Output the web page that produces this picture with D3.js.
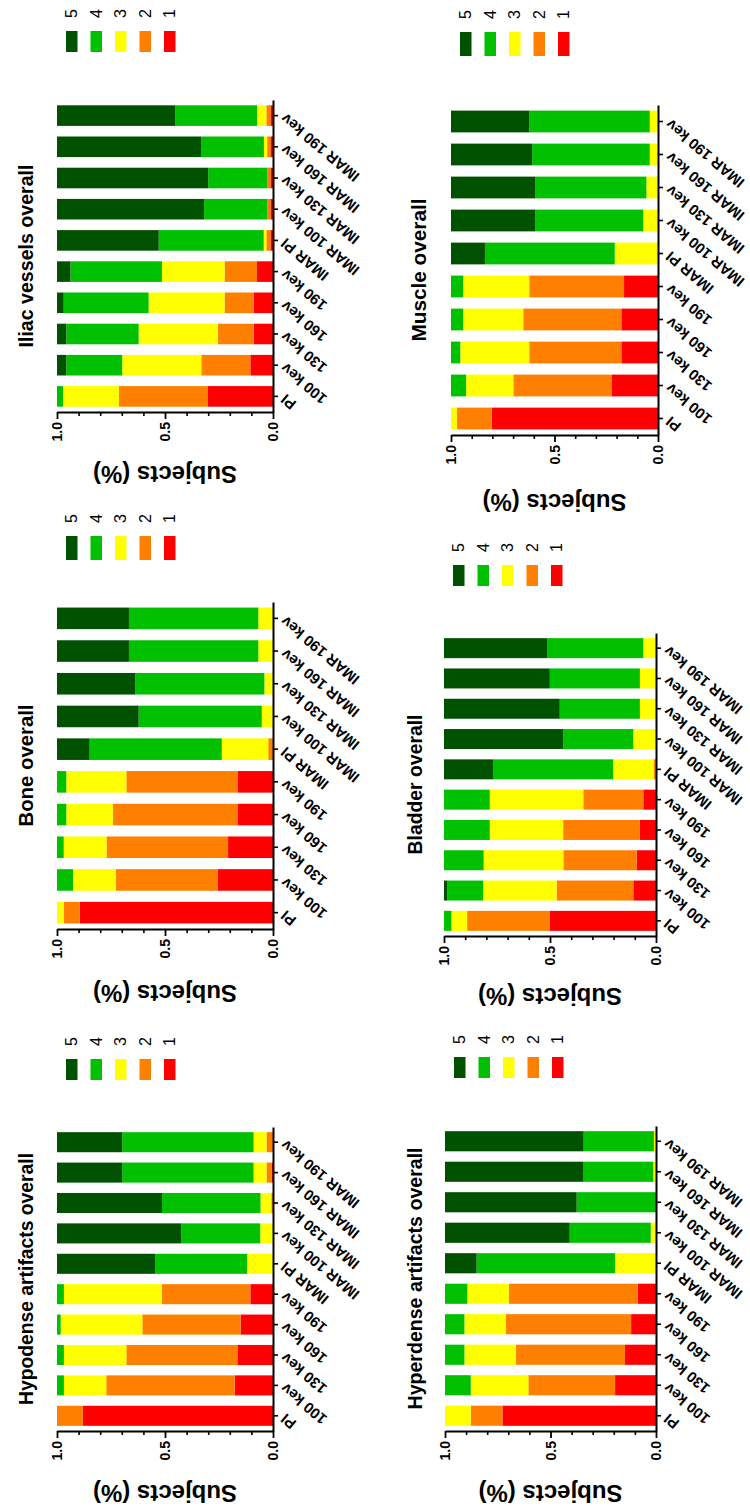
<!doctype html>
<html lang="en">
  <head>
    <meta charset="UTF-8" />
    <title>Image quality scores overall</title>
    <script src="https://d3js.org/d3.v7.min.js"></script>
    <style>
      body {
        margin: 0;
        padding: 0;
        background: #ffffff;
      }
      svg text {
        font-family: 'Liberation Sans', Arial, sans-serif;
        fill: #000000;
      }
      .title {
        font-size: 21px;
        font-weight: bold;
      }
      .axis-title {
        font-size: 24px;
        font-weight: bold;
      }
      .tick-label {
        font-size: 14px;
        font-weight: bold;
      }
      .cat-label {
        font-size: 15px;
        font-weight: bold;
      }
      .legend-label {
        font-size: 16px;
      }
    </style>
  </head>
  <body>
    <div id="chart"></div>

    <script>
      // categories (bottom to top in the picture)
      const categories = [
        'PI', '100 kev', '130 kev', '160 kev', '190 kev',
        'IMAR PI', 'IMAR 100 kev', 'IMAR 130 kev', 'IMAR 160 kev', 'IMAR 190 kev',
      ]
      // scores stacked from 0 upwards
      const scores = ['1', '2', '3', '4', '5']
      const scoreColors = ['#ff0000', '#ff8000', '#ffff00', '#00c000', '#005200']
      const legendOrder = ['5', '4', '3', '2', '1']
      const majorTicks = [0, 0.5, 1]
      const minorTicks = [0.1, 0.2, 0.3, 0.4, 0.6, 0.7, 0.8, 0.9]

      // share of subjects per score 1..5, one row per category
      const iliac = [
        [0.301, 0.412, 0.259, 0.028, 0],
        [0.105, 0.227, 0.366, 0.259, 0.043],
        [0.09, 0.165, 0.367, 0.335, 0.043],
        [0.09, 0.134, 0.352, 0.393, 0.031],
        [0.074, 0.15, 0.29, 0.424, 0.062],
        [0.012, 0.019, 0.012, 0.486, 0.471],
        [0.012, 0.015, 0, 0.292, 0.681],
        [0.012, 0.015, 0, 0.273, 0.7],
        [0.012, 0.015, 0.015, 0.289, 0.669],
        [0.012, 0.019, 0.043, 0.378, 0.548],
      ]
      const muscle = [
        [0.804, 0.167, 0.029, 0, 0],
        [0.225, 0.474, 0.228, 0.073, 0],
        [0.177, 0.445, 0.333, 0.045, 0],
        [0.177, 0.474, 0.29, 0.059, 0],
        [0.164, 0.458, 0.319, 0.059, 0],
        [0, 0, 0.209, 0.627, 0.164],
        [0, 0, 0.071, 0.521, 0.408],
        [0, 0, 0.056, 0.536, 0.408],
        [0, 0, 0.04, 0.568, 0.392],
        [0, 0, 0.04, 0.582, 0.378],
      ]
      const bone = [
        [0.895, 0.074, 0.031, 0, 0],
        [0.255, 0.473, 0.198, 0.074, 0],
        [0.208, 0.563, 0.198, 0.031, 0],
        [0.162, 0.579, 0.216, 0.043, 0],
        [0.162, 0.517, 0.278, 0.043, 0],
        [0, 0.022, 0.215, 0.612, 0.151],
        [0, 0, 0.052, 0.57, 0.378],
        [0, 0, 0.04, 0.597, 0.363],
        [0, 0, 0.068, 0.599, 0.333],
        [0, 0, 0.068, 0.599, 0.333],
      ]
      const bladder = [
        [0.5, 0.391, 0.074, 0.035, 0],
        [0.107, 0.362, 0.346, 0.169, 0.016],
        [0.091, 0.346, 0.376, 0.187, 0],
        [0.076, 0.362, 0.346, 0.216, 0],
        [0.06, 0.283, 0.441, 0.216, 0],
        [0, 0.011, 0.191, 0.567, 0.231],
        [0, 0, 0.107, 0.331, 0.562],
        [0, 0, 0.076, 0.378, 0.546],
        [0, 0, 0.076, 0.425, 0.499],
        [0, 0, 0.06, 0.454, 0.486],
      ]
      const hypodense = [
        [0.88, 0.12, 0, 0, 0],
        [0.177, 0.595, 0.196, 0.032, 0],
        [0.165, 0.514, 0.289, 0.032, 0],
        [0.15, 0.455, 0.378, 0.017, 0],
        [0.105, 0.409, 0.454, 0.032, 0],
        [0, 0, 0.12, 0.426, 0.454],
        [0, 0, 0.059, 0.365, 0.576],
        [0, 0.008, 0.05, 0.456, 0.486],
        [0.005, 0.025, 0.06, 0.608, 0.302],
        [0, 0.03, 0.06, 0.608, 0.302],
      ]
      const hyperdense = [
        [0.728, 0.15, 0.122, 0, 0],
        [0.194, 0.411, 0.273, 0.122, 0],
        [0.147, 0.518, 0.243, 0.092, 0],
        [0.118, 0.593, 0.197, 0.092, 0],
        [0.087, 0.61, 0.197, 0.106, 0],
        [0, 0, 0.194, 0.656, 0.15],
        [0, 0, 0.025, 0.384, 0.591],
        [0, 0, 0, 0.376, 0.624],
        [0, 0, 0.013, 0.333, 0.654],
        [0, 0, 0.01, 0.333, 0.657],
      ]

      // each panel is a prism chart turned a quarter turn to the left
      const panels = [
        { title: 'Iliac vessels overall', values: iliac, x1: 57, x0: 273, axisY: 412, step: 31.2, titleX: 33, titleLen: 183, legendY: 31, legendH: 21, subjOff: 62 },
        { title: 'Muscle overall', values: muscle, x1: 451, x0: 658, axisY: 435, step: 33, titleX: 426, titleLen: 143, legendY: 32, legendH: 24, subjOff: 67 },
        { title: 'Bone overall', values: bone, x1: 57, x0: 273, axisY: 929, step: 32.7, titleX: 33, titleLen: 122, legendY: 536, legendH: 24, subjOff: 64 },
        { title: 'Bladder overall', values: bladder, x1: 444, x0: 656, axisY: 936, step: 30.3, titleX: 422, titleLen: 140, legendY: 565, legendH: 21, subjOff: 60 },
        { title: 'Hypodense artifacts overall', values: hypodense, x1: 57, x0: 273, axisY: 1431, step: 30.4, titleX: 33, titleLen: 252, legendY: 1059, legendH: 21, subjOff: 62 },
        { title: 'Hyperdense artifacts overall', values: hyperdense, x1: 445, x0: 656, axisY: 1431, step: 30.5, titleX: 422, titleLen: 262, legendY: 1057, legendH: 21, subjOff: 62 },
      ]

      const svg = d3
        .select('#chart')
        .append('svg')
        .attr('width', 750)
        .attr('height', 1506)

      const color = d3.scaleOrdinal().domain(scores).range(scoreColors)
      const stack = d3.stack().keys(scores)

      function drawPanel(p) {
        const g = svg.append('g')

        const x = d3.scaleLinear().domain([0, 1]).range([p.x0, p.x1])
        const y = d3
          .scaleBand()
          .domain(categories)
          .range([p.axisY, p.axisY - p.step * categories.length])
          .paddingInner(0.34)
          .paddingOuter(0.17)

        const rows = p.values.map((r, i) => {
          const row = { cat: categories[i] }
          scores.forEach((s, j) => (row[s] = r[j]))
          return row
        })

        // stacked bars
        g.selectAll('.layer')
          .data(stack(rows))
          .enter()
          .append('g')
          .attr('fill', (d) => color(d.key))
          .selectAll('rect')
          .data((d) => d)
          .enter()
          .append('rect')
          .attr('x', (d) => x(d[1]))
          .attr('y', (d) => y(d.data.cat))
          .attr('width', (d) => Math.max(0, x(d[0]) - x(d[1])))
          .attr('height', y.bandwidth())

        // value axis, minor ticks first
        g.append('g')
          .attr('transform', `translate(0, ${p.axisY})`)
          .call(d3.axisBottom(x).tickValues(minorTicks).tickSize(4).tickFormat(''))
          .call((a) => a.select('.domain').remove())
          .call((a) => a.selectAll('line').attr('stroke-width', 1.6))

        g.append('g')
          .attr('transform', `translate(0, ${p.axisY})`)
          .call(d3.axisBottom(x).tickValues(majorTicks).tickSize(7).tickSizeOuter(0).tickFormat(d3.format('.1f')))
          .call((a) => a.select('.domain').attr('stroke-width', 2))
          .call((a) => a.selectAll('line').attr('stroke-width', 1.8))
          .call((a) =>
            a
              .selectAll('text')
              .attr('class', 'tick-label')
              .attr('font-size', null)
              .attr('font-family', null)
              .attr('transform', 'rotate(-90)')
              .attr('text-anchor', 'end')
              .attr('x', -10)
              .attr('y', 0)
              .attr('dy', '0.35em')
          )

        // category axis
        g.append('g')
          .attr('transform', `translate(${p.x0}, 0)`)
          .call(d3.axisRight(y).tickSize(5).tickSizeOuter(0))
          .call((a) => a.select('.domain').attr('stroke-width', 2))
          .call((a) => a.selectAll('line').attr('stroke-width', 1.6))
          .call((a) =>
            a
              .selectAll('text')
              .attr('class', 'cat-label')
              .attr('font-size', null)
              .attr('font-family', null)
              .attr('text-anchor', 'end')
              .attr('x', 0)
              .attr('dy', '0.35em')
              .attr('transform', 'translate(10, 1) rotate(-140)')
          )

        // axis title, upside down
        g.append('text')
          .attr('class', 'axis-title')
          .attr('text-anchor', 'middle')
          .attr('dy', '0.35em')
          .attr('transform', `translate(${(p.x0 + p.x1) / 2}, ${p.axisY + p.subjOff}) rotate(180)`)
          .text('Subjects (%)')

        // panel title
        g.append('text')
          .attr('class', 'title')
          .attr('text-anchor', 'middle')
          .attr('textLength', p.titleLen)
          .attr('lengthAdjust', 'spacingAndGlyphs')
          .attr('transform', `translate(${p.titleX}, ${p.axisY - 5 * p.step}) rotate(-90)`)
          .text(p.title)

        // legend
        const leg = g
          .selectAll('.legend')
          .data(legendOrder)
          .enter()
          .append('g')
          .attr('transform', (d, i) => `translate(${p.x1 + 9 + i * 24.5}, ${p.legendY})`)

        leg.append('rect')
          .attr('width', 11.5)
          .attr('height', p.legendH)
          .attr('fill', (d) => color(d))

        leg.append('text')
          .attr('class', 'legend-label')
          .attr('dy', '0.35em')
          .attr('transform', 'translate(5.75, -13) rotate(-90)')
          .text((d) => d)
      }

      panels.forEach(drawPanel)
    </script>
  </body>
</html>
